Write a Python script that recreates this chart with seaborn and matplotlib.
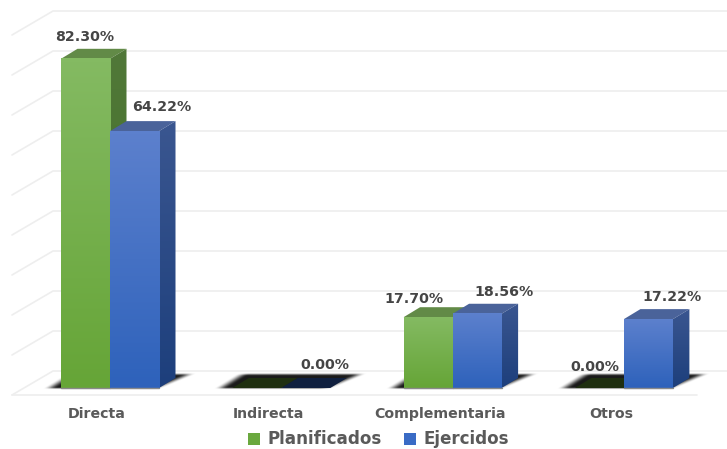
import numpy as np
import pandas as pd
import matplotlib
matplotlib.use("Agg")
import matplotlib.pyplot as plt
import seaborn as sns
from matplotlib.colors import LinearSegmentedColormap
from matplotlib.patches import Patch, Polygon

categories = ['Directa', 'Indirecta', 'Complementaria', 'Otros']
series_names = ['Planificados', 'Ejercidos']
planificados = [82.30, 0.00, 17.70, 0.00]
ejercidos = [64.22, 0.00, 18.56, 17.22]
grid_values = [0, 10, 20, 30, 40, 50, 60, 70, 80, 90]

# label offsets from the bar's top centre, in pixels (None = no label)
label_offsets = {
    'Planificados': [(-1, 22), None, (-14, 18), (-5, 21)],
    'Ejercidos': [(27, 24), (19, 23), (27, 22), (24, 22)],
}

# pixel geometry of the original picture
W, H = 727, 449
PX_X = 171.3  # pixels per category
PX_Y = 4.0    # pixels per percent
BASE_PX = 388
FIRST_PX = 110
DEPTH_X, DEPTH_Y = 16.5, 10

STYLE = {
    'Planificados': dict(front=('#66a537', '#84ba62'), side=('#3f6f22', '#517839'),
                         top='#628a47', flat='#1f2f10'),
    'Ejercidos': dict(front=('#2e62bb', '#5c80cd'), side=('#1d3f7c', '#3a5690'),
                      top='#4a639a', flat='#10203f'),
}
TEXT = '#5a5a5a'
VALUE_TEXT = '#454545'
GRID = '#eeeeee'


def ramp(t):
    t = np.clip(t, 0, 1)
    return t * t * (3 - 2 * t)


def gradient(ax, extent, colors, zorder, clip=None):
    cmap = LinearSegmentedColormap.from_list('g', colors)
    im = ax.imshow(np.linspace(1, 0, 64).reshape(-1, 1), extent=extent, cmap=cmap,
                   aspect='auto', zorder=zorder, interpolation='bilinear')
    if clip is not None:
        im.set_clip_path(clip)
    else:
        im.set_clip_on(False)


def draw_shadow(ax, x0, x1):
    # soft floor shadow as an alpha image, measured in pixels around the bars
    bar_w = (x1 - x0) * PX_X
    u = np.arange(-40, bar_w + 70, 0.5)
    v = np.arange(-4, 20, 0.5)
    uu, vv = np.meshgrid(u, v)
    left = ramp((uu - (-18 + vv * 1.6)) / 14)
    right = ramp(((bar_w + 4 + vv * 2.4) - uu) / 14)
    upper = ramp((15 - vv) / 3)
    lower = ramp((vv + 1.5) / 2)
    rgba = np.zeros(uu.shape + (4,))
    rgba[..., 3] = 0.9 * left * right * upper * lower
    extent = [x0 + u[0] / PX_X, x0 + u[-1] / PX_X, v[0] / PX_Y, v[-1] / PX_Y]
    im = ax.imshow(rgba, extent=extent, origin='lower', aspect='auto', zorder=2,
                   interpolation='bilinear')
    im.set_clip_on(False)


def draw_grid(ax):
    dx, dy = 1 / PX_X, 1 / PX_Y
    left = (12 - FIRST_PX) * dx
    back = (53 - FIRST_PX) * dx
    right = (W - FIRST_PX) * dx
    for v in grid_values:
        y_front = v + (BASE_PX - 395) * dy
        y_back = v + (BASE_PX - 371) * dy
        ax.plot([left, back, right], [y_front, y_back, y_back], color=GRID, lw=1.2,
                zorder=1, clip_on=False, solid_joinstyle='miter')
    ax.plot([left, (697 - FIRST_PX) * dx], [(BASE_PX - 395) * dy] * 2,
            color=GRID, lw=1.2, zorder=1, clip_on=False)


df = pd.DataFrame({
    'category': categories * 2,
    'series': [series_names[0]] * 4 + [series_names[1]] * 4,
    'value': planificados + ejercidos,
})

sns.set_theme(style='white')
plt.rcParams['font.family'] = ['DejaVu Sans']

fig = plt.figure(figsize=(W / 100, H / 100), dpi=100)
ax = fig.add_axes([0, (H - BASE_PX) / H, 1, BASE_PX / H])

sns.barplot(data=df, x='category', y='value', hue='series', hue_order=series_names,
            palette=['#6aa83e', '#3a6bc5'], width=98 / PX_X, gap=0, legend=False, ax=ax)

xlim = (-FIRST_PX / PX_X, (W - FIRST_PX) / PX_X)
ylim = (0, BASE_PX / PX_Y)
dx_d, dy_d = DEPTH_X / PX_X, DEPTH_Y / PX_Y

draw_grid(ax)

# one shadow per category, under both of its bars
for left_bar, right_bar in zip(*ax.containers):
    draw_shadow(ax, left_bar.get_x(), right_bar.get_x() + right_bar.get_width())

for s, (name, group) in enumerate(zip(series_names, ax.containers)):
    st = STYLE[name]
    base_z = 4 + s * 3
    for i, rect in enumerate(group):
        x0, w, h = rect.get_x(), rect.get_width(), rect.get_height()
        x1 = x0 + w
        rect.set_visible(False)
        top_pts = [(x0, h), (x1, h), (x1 + dx_d, h + dy_d), (x0 + dx_d, h + dy_d)]
        top_color = st['top'] if h > 0 else st['flat']
        ax.add_patch(Polygon(top_pts, closed=True, fc=top_color, ec='none', zorder=base_z))
        if h > 0:
            side = Polygon([(x1, 0), (x1 + dx_d, dy_d), (x1 + dx_d, h + dy_d), (x1, h)],
                           closed=True, fc='none', ec='none', zorder=base_z,
                           transform=ax.transData)
            ax.add_patch(side)
            gradient(ax, [x1, x1 + dx_d, 0, h + dy_d], st['side'], base_z, clip=side)
            gradient(ax, [x0, x1, 0, h], st['front'], base_z + 1)
            ax.plot([x0, x1], [0, 0], color='#8a8a8a', lw=1, zorder=base_z + 1, clip_on=False)
        offset = label_offsets[name][i]
        if offset is not None:
            ax.text(x0 + w / 2 + offset[0] / PX_X, h + offset[1] / PX_Y, f'{h:.2f}%', ha='center',
                    va='center', fontsize=10.2, fontweight='bold', color=VALUE_TEXT, zorder=12)

ax.set_xlim(xlim)
ax.set_ylim(ylim)
ax.set_xticks(np.arange(len(categories)) - 13 / PX_X, categories)
ax.set_yticks([])
ax.tick_params(axis='x', length=0, pad=14, labelsize=10.2, labelcolor=TEXT)
for lab in ax.get_xticklabels():
    lab.set_fontweight('bold')
ax.set_xlabel('')
ax.set_ylabel('')
ax.patch.set_visible(False)
sns.despine(ax=ax, left=True, bottom=True)

handles = [Patch(fc='#6aa83e', ec='none'), Patch(fc='#3a6bc5', ec='none')]
fig.legend(handles, series_names, loc='center', bbox_to_anchor=(378.5 / W, 1 - 439.5 / H),
           ncol=2, frameon=False, handlelength=0.72, handleheight=0.72, handletextpad=0.45,
           columnspacing=1.3, labelcolor=TEXT, prop=dict(size=12.1, weight='bold'),
           borderpad=0, borderaxespad=0)

fig.savefig('out.png', dpi=100)
